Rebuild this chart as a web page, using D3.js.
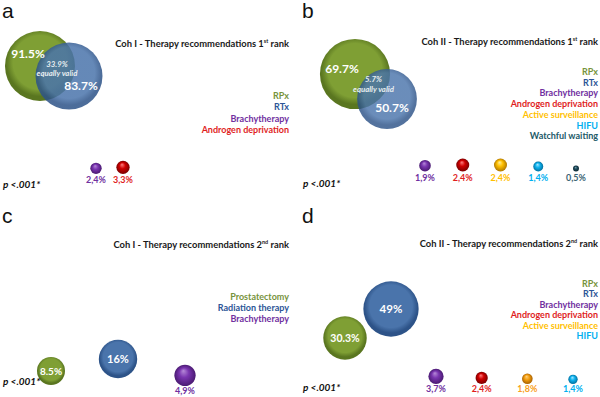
<!DOCTYPE html>
<html><head><meta charset="utf-8">
<script src="https://cdn.jsdelivr.net/npm/d3@7"></script>
<style>body{margin:0;background:#fff} svg{display:block}</style>
</head><body><svg id="chart" width="600" height="397"></svg>
<script>
// ---------------- data ----------------
const aCategories = ["RPx", "RTx", "Brachytherapy", "Androgen deprivation"];
const aValues = [91.5, 83.7, 2.4, 3.3];
const aOverlap = 33.9;
const bCategories = ["RPx", "RTx", "Brachytherapy", "Androgen deprivation", "Active surveillance", "HIFU", "Watchful waiting"];
const bValues = [69.7, 50.7, 1.9, 2.4, 2.4, 1.4, 0.5];
const bOverlap = 5.7;
const cCategories = ["Prostatectomy", "Radiation therapy", "Brachytherapy"];
const cValues = [8.5, 16, 4.9];
const dCategories = ["RPx", "RTx", "Brachytherapy", "Androgen deprivation", "Active surveillance", "HIFU"];
const dValues = [30.3, 49, 3.7, 2.4, 1.8, 1.4];
const panelLetters = ["a", "b", "c", "d"];
const titleCohorts = ["Coh I", "Coh II", "Coh I", "Coh II"];
const titleRanks = [["1", "st"], ["1", "st"], ["2", "nd"], ["2", "nd"]];
const overlapLabel = "equally valid";
const pText = "p <.001*";

// ---------------- styles ----------------
const legendColor = {
  "RPx": "#77933c", "Prostatectomy": "#77933c",
  "RTx": "#2c5597", "Radiation therapy": "#2c5597",
  "Brachytherapy": "#7030a0", "Androgen deprivation": "#e01e1e",
  "Active surveillance": "#ffc000", "HIFU": "#00b0f0", "Watchful waiting": "#215967"
};
const ballColor = {
  "RPx": ["#a3c25a", "#7f9f34", "#5a7620"], "Prostatectomy": ["#a3c25a", "#7f9f34", "#5a7620"],
  "RTx": ["#6690c6", "#4a74ab", "#2d5388"], "Radiation therapy": ["#6690c6", "#4a74ab", "#2d5388"],
  "Brachytherapy": ["#b68ad8", "#7a35b0", "#4a1a72"],
  "Androgen deprivation": ["#ff8080", "#d00000", "#7a0000"],
  "Active surveillance": ["#fff0a0", "#ffc000", "#b07800"],
  "HIFU": ["#a8e8ff", "#10b4f0", "#0070a0"],
  "Watchful waiting": ["#7aa0b0", "#1f4d5e", "#0c2630"]
};
const labelColor = Object.assign({}, legendColor, {"Watchful waiting": "#3b6474"});
const dBallOverride = {"Active surveillance": ["#ffd080", "#f5a010", "#a86000"]};
const dLabelOverride = {"Active surveillance": "#f9a020"};

const svg = d3.select("#chart");
const defs = svg.append("defs");

function gradId(panel, cat, kind) { return "g" + panel + kind + cat.replace(/\s+/g, ""); }
function makeGrad(id, cols, kind) {
  const g = defs.append("radialGradient").attr("id", id);
  if (kind === "big") {
    g.attr("cx", "50%").attr("cy", "45%").attr("r", "55%");
    g.append("stop").attr("offset", "0%").attr("stop-color", cols[1]);
    g.append("stop").attr("offset", "70%").attr("stop-color", cols[1]);
    g.append("stop").attr("offset", "88%").attr("stop-color", cols[2]);
    g.append("stop").attr("offset", "100%").attr("stop-color", cols[2]);
  } else {
    g.attr("cx", "50%").attr("cy", "50%").attr("r", "50%").attr("fx", "42%").attr("fy", "28%");
    g.append("stop").attr("offset", "0%").attr("stop-color", cols[0]);
    g.append("stop").attr("offset", "45%").attr("stop-color", cols[1]);
    g.append("stop").attr("offset", "100%").attr("stop-color", cols[2]);
  }
}

const fmtBig = v => String(v) + "%";
const fmtSmall = v => String(v).replace(".", ",") + "%";

// layout per panel (positions only)
const panels = [
  {id: "a", cats: aCategories, vals: aValues, overlap: aOverlap, r100: 36.6,
   bigX: [40, 69], bigY: [66, 76], bigOpacity: [1, 0.85], bigLabelOff: [[-12, -8], [12, 14]], bigFont: 12,
   smallX: [96, 123], smallBottom: 174, smallLabelY: 183,
   legendX: 289, legendY: 99, legendStep: 11.3, titleX: 289, titleY: 47, letterY: 18, pY: 188},
  {id: "b", cats: bCategories, vals: bValues, overlap: bOverlap, r100: 42,
   bigX: [355, 387], bigY: [74, 99], bigOpacity: [1, 0.82], bigLabelOff: [[-13, -1], [5, 13]], bigFont: 12,
   smallX: [425, 576], smallBottom: 171.5, smallLabelY: 181,
   legendX: 598, legendY: 75, legendStep: 10.7, titleX: 598, titleY: 45, letterY: 18, pY: 187, letterX: 302},
  {id: "c", cats: cCategories, vals: cValues, r100: 48,
   bigX: [51, 118], bigY: [371, 359], bigOpacity: [1, 1], bigLabelOff: [[0, 3.5], [0, 4]], bigFont: [10, 11],
   smallX: [185, 185], smallBottom: 386, smallLabelY: 394,
   legendX: 289, legendY: 300, legendStep: 11, titleX: 289, titleY: 248, letterY: 223, pY: 385},
  {id: "d", cats: dCategories, vals: dValues, r100: 39.5,
   bigX: [345, 391], bigY: [338, 309], bigOpacity: [1, 1], bigLabelOff: [[0, 4], [0, 4]], bigFont: [10.5, 11.5],
   smallX: [436, 573], smallBottom: 384, smallLabelY: 392,
   legendX: 598, legendY: 287, legendStep: 10.4, titleX: 598, titleY: 247, letterY: 223, pY: 391, letterX: 302}
];

panels.forEach((p, pi) => {
  const g = svg.append("g");
  const rScale = d3.scaleSqrt().domain([0, 100]).range([0, p.r100]);
  const bigCats = p.cats.slice(0, 2), bigVals = p.vals.slice(0, 2);
  const smallCats = p.cats.slice(2), smallVals = p.vals.slice(2);
  const bx = d3.scalePoint().domain(bigCats).range(p.bigX);
  const by = d3.scalePoint().domain(bigCats).range(p.bigY);
  const sx = d3.scalePoint().domain(smallCats).range(p.smallX);

  // panel letter
  g.append("text").attr("x", p.letterX != null ? p.letterX : 2).attr("y", p.letterY)
    .attr("font-family", "Liberation Sans, Arial, sans-serif").attr("font-size", 21).attr("fill", "#111")
    .text(panelLetters[pi]);

  // title
  const t = g.append("text").attr("x", p.titleX).attr("y", p.titleY).attr("text-anchor", "end")
    .attr("font-family", "Lato, sans-serif").attr("font-weight", "bold").attr("font-size", 9.4).attr("fill", "#1a1a1a");
  t.append("tspan").text(titleCohorts[pi] + " - Therapy recommendations " + titleRanks[pi][0]);
  t.append("tspan").attr("font-size", 5.5).attr("dy", -4).text(titleRanks[pi][1]);
  t.append("tspan").attr("dy", 4).text(" rank");

  // legend
  g.selectAll(".leg").data(p.cats).join("text")
    .attr("x", p.legendX).attr("y", (d, i) => p.legendY + i * p.legendStep)
    .attr("text-anchor", "end").attr("font-family", "Lato, sans-serif").attr("font-weight", "bold")
    .attr("font-size", 9).attr("fill", d => legendColor[d]).text(d => d);

  // big circles
  bigCats.forEach((c, i) => makeGrad(gradId(p.id, c, "big"), ballColor[c], "big"));
  g.selectAll(".big").data(bigCats.map((c, i) => ({c, v: bigVals[i], i}))).join("circle")
    .attr("cx", d => bx(d.c)).attr("cy", d => by(d.c)).attr("r", d => rScale(d.v))
    .attr("fill", d => `url(#${gradId(p.id, d.c, "big")})`).attr("fill-opacity", d => p.bigOpacity[d.i]);
  g.selectAll(".bigl").data(bigCats.map((c, i) => ({c, v: bigVals[i], i}))).join("text")
    .attr("x", d => bx(d.c) + p.bigLabelOff[d.i][0]).attr("y", d => by(d.c) + p.bigLabelOff[d.i][1])
    .attr("text-anchor", "middle").attr("font-family", "Lato, sans-serif").attr("font-weight", "bold")
    .attr("font-size", d => Array.isArray(p.bigFont) ? p.bigFont[d.i] : p.bigFont)
    .attr("fill", "#fff").text(d => fmtBig(d.v));

  // overlap labels
  if (p.overlap != null) {
    const mx = (bx(bigCats[0]) + bx(bigCats[1])) / 2 + 2.5;
    const my = (by(bigCats[0]) + by(bigCats[1])) / 2 - 4.5;
    const ot = g.append("text").attr("text-anchor", "middle").attr("font-family", "Lato, sans-serif")
      .attr("font-weight", "bold").attr("font-style", "italic").attr("font-size", 7.8).attr("fill", "#e8eef0");
    ot.append("tspan").attr("x", mx).attr("y", my).text(fmtBig(p.overlap));
    ot.append("tspan").attr("x", mx).attr("y", my + 9.5).text(overlapLabel);
  }

  // small balls
  smallCats.forEach(c => {
    const cols = (p.id === "d" && dBallOverride[c]) ? dBallOverride[c] : ballColor[c];
    makeGrad(gradId(p.id, c, "small"), cols, "small");
  });
  const sd = smallCats.map((c, i) => ({c, v: smallVals[i]}));
  g.selectAll(".sm").data(sd).join("circle")
    .attr("cx", d => sx(d.c)).attr("cy", d => p.smallBottom - rScale(d.v)).attr("r", d => rScale(d.v))
    .attr("fill", d => `url(#${gradId(p.id, d.c, "small")})`);
  g.selectAll(".sml").data(sd).join("text")
    .attr("x", d => sx(d.c)).attr("y", p.smallLabelY).attr("text-anchor", "middle")
    .attr("font-family", "Lato, sans-serif").attr("font-weight", "bold").attr("font-size", 9)
    .attr("fill", d => (p.id === "d" && dLabelOverride[d.c]) ? dLabelOverride[d.c] : labelColor[d.c])
    .text(d => fmtSmall(d.v));

  // p value
  g.append("text").attr("x", p.letterX != null ? p.letterX + 1 : 3).attr("y", p.pY)
    .attr("font-family", "Lato, sans-serif").attr("font-weight", "bold").attr("font-style", "italic")
    .attr("font-size", 10).attr("fill", "#111").text(pText);
});
</script></body></html>
